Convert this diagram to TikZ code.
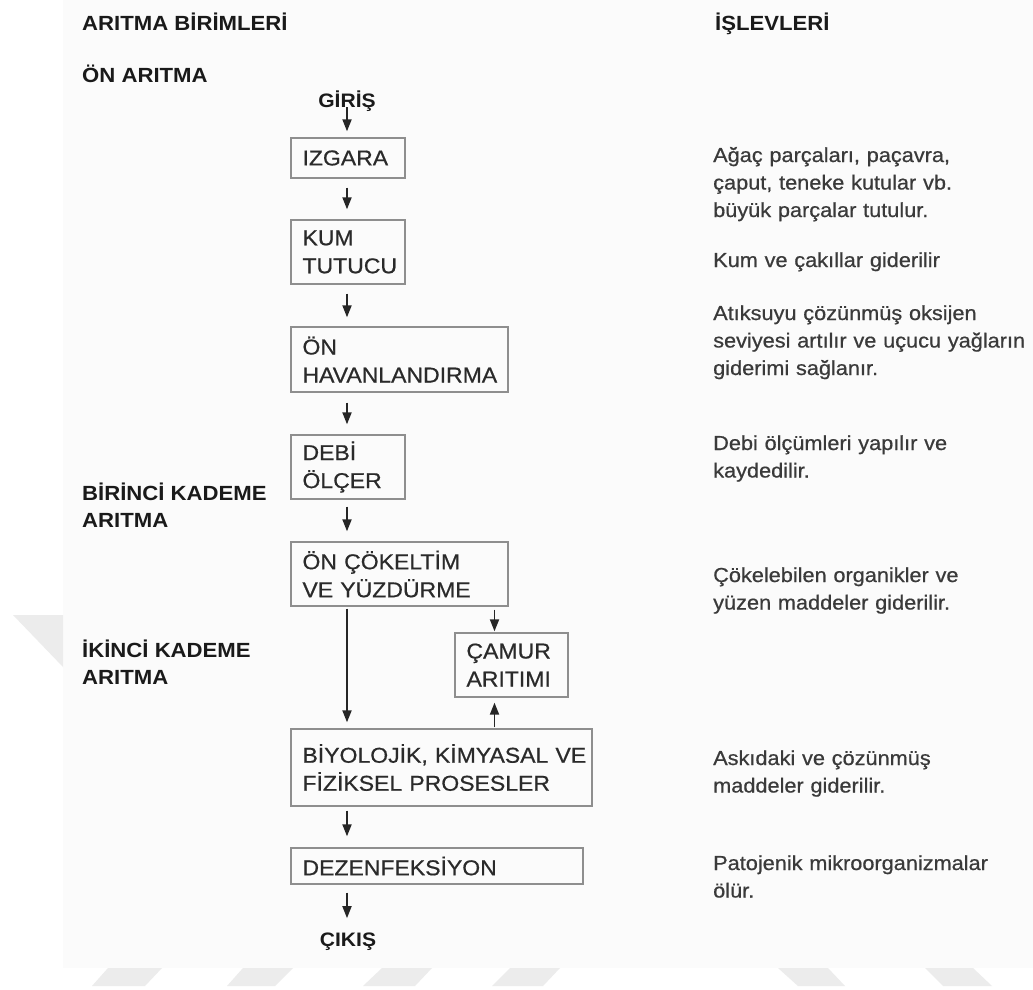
\documentclass[tikz,border=0pt]{standalone}
\usepackage{fontspec}
\setmainfont{Liberation Sans}[FakeStretch=1.08]
\newfontfamily\medfont{Liberation Sans}[FakeStretch=1.07,FakeBold=0.6]
\usetikzlibrary{arrows.meta}
\definecolor{txt}{HTML}{2A2A2A}
\definecolor{desc}{HTML}{3A3A3A}
\definecolor{hdr}{HTML}{1A1A1A}
\definecolor{frame}{HTML}{8E8E8E}
\definecolor{wm}{HTML}{ECECEC}
\definecolor{panel}{HTML}{FBFBFB}
\begin{document}
\begin{tikzpicture}[x=1pt,y=-1pt,
  stagebox/.style={draw=frame, line width=1.3pt, inner xsep=11.5pt, inner ysep=0pt,
    align=left, font=\medfont\fontsize{21.5}{28}\selectfont, text=txt},
  hdrtext/.style={inner sep=0pt, anchor=base west, align=left, text=hdr,
    font=\bfseries\fontsize{20.5}{27}\selectfont},
  flowtext/.style={inner sep=0pt, anchor=base, text=hdr, font=\bfseries\fontsize{19.5}{22}\selectfont},
  desctext/.style={inner sep=0pt, anchor=base west, align=left, text width=318pt, text=desc,
    font=\medfont\fontsize{20.3}{27.5}\selectfont},
  arr/.style={-{Triangle[length=12pt,width=9pt]}, line width=1.8pt, draw=black!85}
]
\useasboundingbox (0,0) rectangle (1033,990);
\fill[white] (0,0) rectangle (1033,990);
\fill[panel] (63,0) rectangle (1033,968);
% watermark shapes
\fill[wm] (13,615) -- (63,615) -- (63,667) -- cycle;
\fill[wm] (108,968) -- (162,968) -- (145,986) -- (92,986) -- cycle;
\fill[wm] (243,968) -- (293,968) -- (275,986) -- (227,986) -- cycle;
\fill[wm] (382,968) -- (432,968) -- (415,986) -- (363,986) -- cycle;
\fill[wm] (510,968) -- (560,968) -- (543,986) -- (492,986) -- cycle;
\fill[wm] (778,968) -- (828,968) -- (845,986) -- (798,986) -- cycle;
\fill[wm] (925,968) -- (973,968) -- (992,986) -- (943,986) -- cycle;

\coordinate (mx) at (347,0);
\coordinate (cx) at (494.5,0);

% headers
\node[hdrtext] (h1) at (82,31) {ARITMA BİRİMLERİ};
\node[hdrtext] (h2) at (715,31) {İŞLEVLERİ};
\node[hdrtext] (h3) at (82,82) {ÖN ARITMA};
\node[hdrtext] (h4) at (82,527) {BİRİNCİ KADEME\\ARITMA};
\node[hdrtext] (h5) at (82,684) {İKİNCİ KADEME\\ARITMA};

% flow
\node[flowtext] (g) at (347,107) {GİRİŞ};
\node[stagebox, minimum width=114pt, minimum height=40pt, text width=91pt] (izg) at (348,158) {IZGARA};
\node[stagebox, minimum width=114pt, minimum height=64pt, text width=91pt] (kum) at (348,252) {KUM\\\mbox{TUTUCU}};
\node[stagebox, minimum width=217pt, minimum height=65pt, text width=194pt] (hav) at (399.5,359.5) {ÖN\\\mbox{HAVANLANDIRMA}};
\node[stagebox, minimum width=114pt, minimum height=64pt, text width=91pt] (debi) at (348,467) {DEBİ\\ÖLÇER};
\node[stagebox, minimum width=217pt, minimum height=64pt, text width=194pt] (cok) at (399.5,574) {\mbox{ÖN ÇÖKELTİM}\\\mbox{VE YÜZDÜRME}};
\node[stagebox, minimum width=113pt, minimum height=64pt, text width=90pt] (cam) at (511.5,665) {ÇAMUR\\ARITIMI};
\node[stagebox, minimum width=301pt, minimum height=77pt, text width=278pt] (bio) at (441.5,767.5) {\mbox{BİYOLOJİK, KİMYASAL VE}\\\mbox{FİZİKSEL PROSESLER}};
\node[stagebox, minimum width=292pt, minimum height=36pt, text width=269pt] (dez) at (437,866) {DEZENFEKSİYON};
\node[flowtext] (cik) at (348,946) {ÇIKIŞ};

\draw[arr, shorten >=6pt] (g.base) -- (g.base |- izg.north);
\draw[arr, shorten <=9pt, shorten >=10pt] (izg.south -| mx) -- (kum.north -| mx);
\draw[arr, shorten <=9pt, shorten >=9pt] (kum.south -| mx) -- (hav.north -| mx);
\draw[arr, shorten <=10pt, shorten >=10pt] (hav.south -| mx) -- (debi.north -| mx);
\draw[arr, shorten <=7pt, shorten >=10pt] (debi.south -| mx) -- (cok.north -| mx);
\draw[arr, shorten <=2pt, shorten >=6pt] (cok.south -| mx) -- (bio.north -| mx);
\draw[arr, shorten <=3pt, shorten >=1pt] (cok.south -| cx) -- (cam.north -| cx);
\draw[arr, shorten <=1pt, shorten >=5pt] (bio.north -| cx) -- (cam.south -| cx);
\draw[arr, shorten <=4pt, shorten >=11pt] (bio.south -| mx) -- (dez.north -| mx);
\draw[arr, shorten <=8pt, shorten >=14pt] (dez.south -| mx) -- (cik.north -| mx);

% descriptions
\node[desctext] (d1) at (713,162) {Ağaç parçaları, paçavra,\\çaput, teneke kutular vb.\\büyük parçalar tutulur.};
\node[desctext] (d2) at (713,267) {Kum ve çakıllar giderilir};
\node[desctext] (d3) at (713,320) {Atıksuyu çözünmüş oksijen\\\mbox{seviyesi artılır ve uçucu yağların}\\giderimi sağlanır.};
\node[desctext] (d4) at (713,450) {Debi ölçümleri yapılır ve\\kaydedilir.};
\node[desctext] (d5) at (713,582) {Çökelebilen organikler ve\\yüzen maddeler giderilir.};
\node[desctext] (d6) at (713,765) {Askıdaki ve çözünmüş\\maddeler giderilir.};
\node[desctext] (d7) at (713,870) {Patojenik mikroorganizmalar\\ölür.};
\end{tikzpicture}
\end{document}
